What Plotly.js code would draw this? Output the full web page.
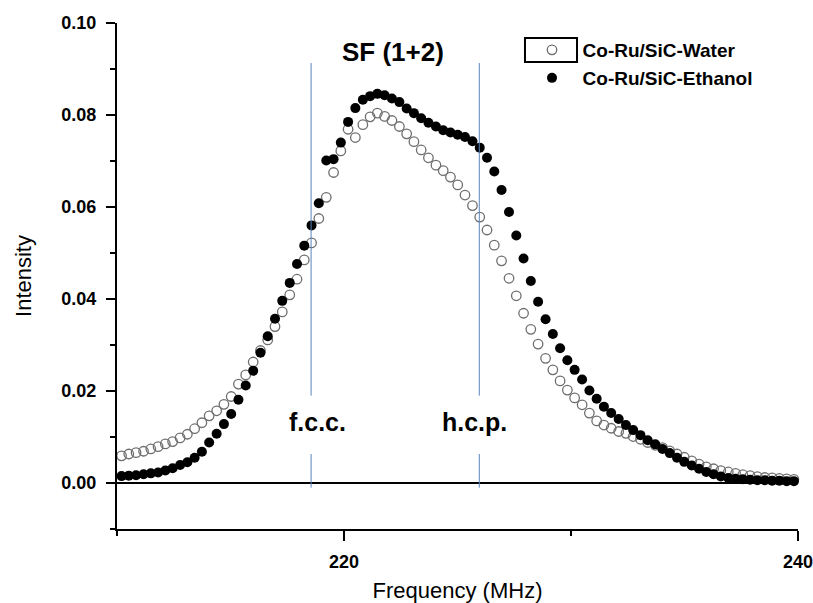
<!DOCTYPE html>
<html>
<head>
<meta charset="utf-8">
<script src="https://cdn.plot.ly/plotly-3.0.1.min.js"></script>
<style>html,body{margin:0;padding:0;background:#fff;}#chart{width:813px;height:603px;}</style>
</head>
<body>
<div id="chart"></div>
<script>
// Frequency (MHz)
const freq = [210.20,210.52,210.84,211.17,211.49,211.81,212.13,212.45,212.78,213.10,
  213.42,213.74,214.06,214.39,214.71,215.03,215.35,215.67,216.00,216.32,
  216.64,216.96,217.28,217.61,217.93,218.25,218.57,218.89,219.22,219.54,
  219.86,220.18,220.50,220.83,221.15,221.47,221.79,222.11,222.44,222.76,
  223.08,223.40,223.72,224.05,224.37,224.69,225.01,225.33,225.66,225.98,
  226.30,226.62,226.94,227.27,227.59,227.91,228.23,228.55,228.88,229.20,
  229.52,229.84,230.16,230.49,230.81,231.13,231.45,231.77,232.10,232.42,
  232.74,233.06,233.38,233.71,234.03,234.35,234.67,234.99,235.32,235.64,
  235.96,236.28,236.60,236.93,237.25,237.57,237.89,238.21,238.54,238.86,
  239.18,239.50,239.82];

// Co-Ru/SiC-Water (open circles)
const water = [0.0059,0.0063,0.0066,0.0069,0.0074,0.0079,0.0085,0.0090,0.0098,0.0106,
  0.0118,0.0131,0.0146,0.0157,0.0171,0.0188,0.0215,0.0235,0.0263,0.0288,
  0.0311,0.0340,0.0372,0.0409,0.0443,0.0485,0.0522,0.0575,0.0621,0.0675,
  0.0722,0.0769,0.0751,0.0779,0.0796,0.0804,0.0797,0.0788,0.0775,0.0759,
  0.0742,0.0724,0.0707,0.0691,0.0679,0.0665,0.0648,0.0626,0.0603,0.0578,
  0.0550,0.0517,0.0483,0.0445,0.0407,0.0369,0.0334,0.0302,0.0271,0.0246,
  0.0222,0.0202,0.0185,0.0170,0.0152,0.0135,0.0126,0.0119,0.0112,0.0108,
  0.0101,0.0095,0.0088,0.0082,0.0077,0.0070,0.0063,0.0056,0.0048,0.0041,
  0.0035,0.0031,0.0027,0.0024,0.0021,0.0018,0.0016,0.0014,0.0012,0.0011,
  0.0010,0.0009,0.0008];

// Co-Ru/SiC-Ethanol (filled circles)
const ethanol = [0.0015,0.0016,0.0017,0.0019,0.0021,0.0023,0.0027,0.0032,0.0039,0.0045,
  0.0055,0.0068,0.0088,0.0107,0.0128,0.0150,0.0181,0.0212,0.0244,0.0283,
  0.0319,0.0357,0.0396,0.0435,0.0476,0.0516,0.0560,0.0608,0.0701,0.0704,
  0.0740,0.0785,0.0815,0.0833,0.0841,0.0846,0.0843,0.0836,0.0828,0.0814,
  0.0804,0.0793,0.0783,0.0775,0.0767,0.0762,0.0757,0.0752,0.0743,0.0729,
  0.0707,0.0677,0.0637,0.0589,0.0538,0.0488,0.0439,0.0394,0.0356,0.0324,
  0.0293,0.0267,0.0246,0.0225,0.0201,0.0183,0.0166,0.0152,0.0139,0.0126,
  0.0115,0.0104,0.0093,0.0084,0.0074,0.0065,0.0055,0.0046,0.0038,0.0031,
  0.0024,0.0019,0.0014,0.0011,0.0009,0.0008,0.0007,0.0006,0.0006,0.0005,
  0.0005,0.0004,0.0004];

const seriesNames = ['Co-Ru/SiC-Water', 'Co-Ru/SiC-Ethanol'];
const markerLines = [218.55, 225.96];     // f.c.c. / h.c.p. positions (MHz)
const markerLabels = ['f.c.c.', 'h.c.p.'];
const peakLabel = 'SF (1+2)';

const FONT = 'Arial, "Liberation Sans", sans-serif';
const NB = '\u00A0\u00A0';

const traces = [
  {
    x: freq, y: water, type: 'scatter', mode: 'markers', name: NB + seriesNames[0],
    legend: 'legend',
    marker: {symbol: 'circle-open', size: 9.5, color: '#6e6e6e', line: {width: 1.3, color: '#6e6e6e'}},
    cliponaxis: false
  },
  {
    x: freq, y: ethanol, type: 'scatter', mode: 'markers', name: NB + seriesNames[1],
    legend: 'legend2',
    marker: {symbol: 'circle', size: 10, color: '#000000'},
    cliponaxis: false
  }
];

const blue = '#5a82bd';
const shapes = [];
markerLines.forEach(v => {
  shapes.push({type: 'line', xref: 'x', yref: 'y', x0: v, x1: v, y0: 0.0913, y1: 0.0190, line: {color: blue, width: 1}});
  shapes.push({type: 'line', xref: 'x', yref: 'y', x0: v, x1: v, y0: 0.0063, y1: -0.0010, line: {color: blue, width: 1}});
});
// frame around the first legend symbol
shapes.push({type: 'rect', xref: 'paper', yref: 'paper', x0: 0.5991, x1: 0.6755, y0: 0.9229, y1: 0.9704,
  line: {color: '#000', width: 2}, fillcolor: 'rgba(0,0,0,0)'});

const annotations = [
  {x: 222.18, y: 0.0937, xref: 'x', yref: 'y', text: '<b>' + peakLabel + '</b>', showarrow: false,
   font: {family: FONT, size: 26, color: '#000'}},
  {x: 218.85, y: 0.0133, xref: 'x', yref: 'y', text: '<b>' + markerLabels[0] + '</b>', showarrow: false,
   font: {family: FONT, size: 25, color: '#000'}},
  {x: 225.73, y: 0.0133, xref: 'x', yref: 'y', text: '<b>' + markerLabels[1] + '</b>', showarrow: false,
   font: {family: FONT, size: 25, color: '#000'}}
];

const legendCommon = {
  xanchor: 'left', yanchor: 'middle', bgcolor: 'rgba(0,0,0,0)', borderwidth: 0,
  font: {family: FONT, size: 19, color: '#000', weight: 'bold'}, itemwidth: 30
};

const layout = {
  width: 813, height: 603,
  margin: {l: 117, r: 15, t: 23, b: 74},
  paper_bgcolor: '#fff', plot_bgcolor: '#fff',
  showlegend: true,
  legend: Object.assign({x: 0.6094, y: 0.9466}, legendCommon),
  legend2: Object.assign({x: 0.6094, y: 0.8913}, legendCommon),
  xaxis: {
    range: [210, 240], showgrid: false, zeroline: false,
    showline: true, linecolor: '#000', linewidth: 2,
    tickmode: 'linear', tick0: 220, dtick: 20, ticks: 'outside', ticklen: 10, tickwidth: 2, tickcolor: '#000',
    minor: {tick0: 210, dtick: 10, ticks: 'outside', ticklen: 5, tickwidth: 2, tickcolor: '#000', showgrid: false},
    tickfont: {family: FONT, size: 18, color: '#000', weight: 'bold'},
    ticklabelstandoff: 5, ticklabeloverflow: 'allow',
    title: {text: 'Frequency (MHz)', font: {family: FONT, size: 22, color: '#000'}, standoff: 14}
  },
  yaxis: {
    range: [-0.01, 0.10], showgrid: false,
    zeroline: true, zerolinecolor: '#000', zerolinewidth: 2,
    showline: true, linecolor: '#000', linewidth: 2,
    tickmode: 'linear', tick0: 0, dtick: 0.02, tickformat: '.2f',
    ticks: 'outside', ticklen: 9, tickwidth: 2, tickcolor: '#000',
    minor: {tick0: 0, dtick: 0.01, ticks: 'outside', ticklen: 5, tickwidth: 2, tickcolor: '#000', showgrid: false},
    tickfont: {family: FONT, size: 18, color: '#000', weight: 'bold'},
    ticklabelstandoff: 6, ticklabeloverflow: 'allow',
    title: {text: 'Intensity', font: {family: FONT, size: 22, color: '#000'}, standoff: 24}
  },
  shapes: shapes,
  annotations: annotations
};

Plotly.newPlot('chart', traces, layout, {displayModeBar: false, staticPlot: true});
</script>
</body>
</html>
